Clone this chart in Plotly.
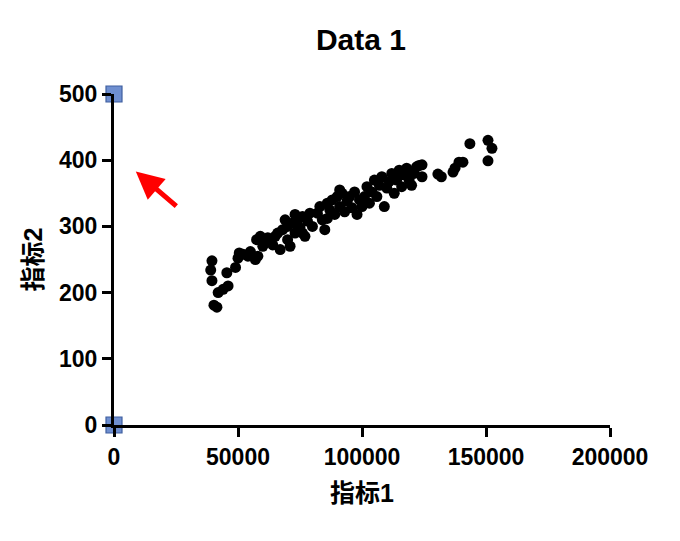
import plotly.graph_objects as go

x_vals = [39500, 39000, 39500, 40300, 41500, 44000, 46000, 45500, 42000,
          49000, 50000, 52000, 54000, 50500, 55000, 57000, 58000, 60000, 57500, 59000, 61000, 62000,
          64000, 65000, 66000, 67000, 68000, 70000, 70000, 72000, 73000, 74000, 75000, 76000, 77000,
          78000, 79000, 80000, 71000, 69000, 73000, 76000,
          82000, 83000, 84000, 85000, 86000, 87000, 88000, 89000, 90000, 91000, 92000, 93000, 94000,
          95000, 96000, 97000, 98000, 99000, 100000, 86000, 91000,
          101000, 102000, 103000, 104000, 105000, 106000, 107000, 108000, 109000, 110000, 111000,
          112000, 113000, 114000, 115000, 116000, 117000, 118000, 119000, 120000, 121000, 122000, 123000,
          124200, 124200, 130600, 132000, 136700, 137500, 139100, 140700, 143500, 150800, 152400, 150800]
y_vals = [248, 234, 218, 181, 178, 205, 210, 230, 200,
          238, 252, 258, 255, 260, 262, 250, 255, 270, 280, 285, 278, 283,
          272, 285, 290, 265, 295, 300, 280, 305, 290, 310, 298, 315, 285,
          308, 320, 300, 270, 310, 318, 290,
          320, 330, 310, 295, 335, 325, 340, 318, 345, 330, 350, 322, 338,
          345, 328, 352, 318, 340, 330, 312, 355,
          345, 360, 335, 352, 370, 345, 362, 375, 330, 358, 368,
          380, 350, 370, 385, 360, 378, 388, 370, 362, 380, 390, 392,
          393, 375, 379, 375, 382, 388, 397, 397, 425, 430, 418, 399]

handle_x = [0, 0]
handle_y = [0, 500]

x_ticks = [0, 50000, 100000, 150000, 200000]
y_ticks = [0, 100, 200, 300, 400, 500]

font_fam = "Arial, Liberation Sans, Noto Sans CJK SC, sans-serif"

fig = go.Figure()
fig.add_trace(go.Scatter(x=x_vals, y=y_vals, mode="markers",
                         marker=dict(color="black", size=11), showlegend=False))
fig.add_trace(go.Scatter(x=handle_x, y=handle_y, mode="markers", cliponaxis=False,
                         marker=dict(symbol="square", size=16, color="#6f8fd0",
                                     line=dict(color="#3f5f9f", width=1.2)),
                         showlegend=False))

fig.add_annotation(x=8800, y=383, xref="x", yref="y", ax=42, ay=36,
                   showarrow=True, arrowhead=2, arrowsize=1.1, arrowwidth=5,
                   arrowcolor="#ff0000", text="")

axis_common = dict(showgrid=False, zeroline=False, showline=True, linecolor="black",
                   linewidth=3, ticks="outside", ticklen=9, tickwidth=2.8,
                   tickcolor="black", tickfont=dict(family=font_fam, size=23, color="black",
                                                    weight="bold"))

fig.update_layout(
    width=680, height=541,
    paper_bgcolor="white", plot_bgcolor="white",
    margin=dict(l=106, r=78, t=86, b=124),
    title=dict(text="<b>Data 1</b>", x=0.519, xanchor="center", y=0.941, yanchor="middle",
               font=dict(family=font_fam, size=30, color="black")),
    xaxis=dict(range=[0, 200000], tickvals=x_ticks, ticktext=[str(v) for v in x_ticks],
               title=dict(text="<b>指标1</b>", standoff=16,
                          font=dict(family=font_fam, size=25, color="black")),
               **axis_common),
    yaxis=dict(range=[0, 500], tickvals=y_ticks, ticktext=[str(v) for v in y_ticks],
               title=dict(text="<b>指标2</b>", standoff=10,
                          font=dict(family=font_fam, size=25, color="black")),
               **axis_common),
)

fig.write_html("out.html")
